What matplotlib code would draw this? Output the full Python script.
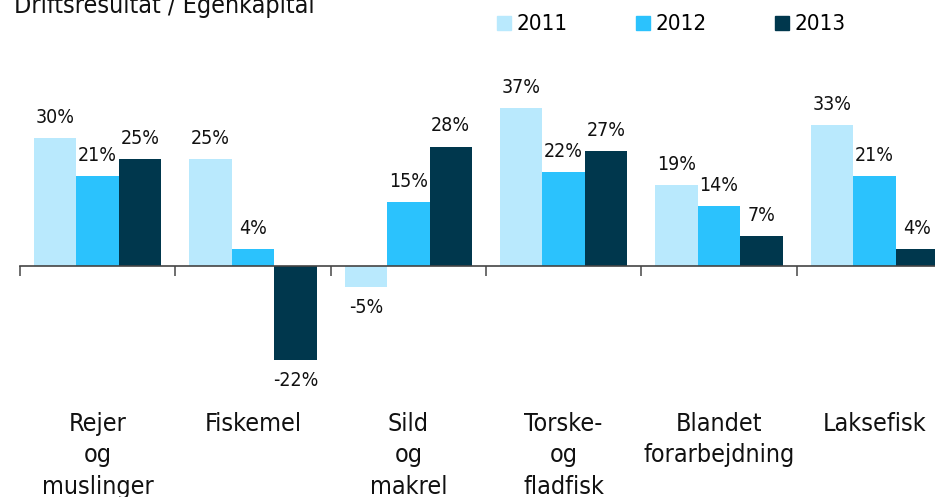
import numpy as np
import matplotlib.pyplot as plt
from matplotlib.lines import Line2D
from matplotlib.transforms import blended_transform_factory

# --- data ---
categories = ["Rejer\nog\nmuslinger", "Fiskemel", "Sild\nog\nmakrel",
              "Torske-\nog\nfladfisk", "Blandet\nforarbejdning", "Laksefisk"]
years = ["2011", "2012", "2013"]
v2011 = [30, 25, -5, 37, 19, 33]
v2012 = [21, 4, 15, 22, 14, 21]
v2013 = [25, -22, 28, 27, 7, 4]
colors = ["#b9e9fd", "#2bc2fd", "#00374d"]

# condensed face to mimic the narrow font in the original
plt.rcParams['font.family'] = ['DejaVu Sans']
plt.rcParams['font.stretch'] = 'condensed'

fig = plt.figure(figsize=(9.35, 4.97), dpi=100)
# axes extends past the right edge like the original
ax = fig.add_axes([20 / 935, 103 / 497, 932 / 935, 320 / 497])

x = np.arange(len(categories))
w = 0.273
for i, (vals, c) in enumerate(zip([v2011, v2012, v2013], colors)):
    pos = x + (i - 1) * w
    ax.bar(pos, vals, width=w, color=c, label=years[i])
    for p, v in zip(pos, vals):
        if v >= 0:
            ax.text(p, v + 2.6, f"{v}%", ha='center', va='bottom', fontsize=14, color='#111111')
        else:
            ax.text(p, v - 2.6, f"{v}%", ha='center', va='top', fontsize=14, color='#111111')

ax.set_xlim(-0.5, len(categories) - 0.5)
ax.set_ylim(-30, 45)

for s in ['top', 'right', 'left']:
    ax.spines[s].set_visible(False)
ax.spines['bottom'].set_position(('data', 0))
ax.spines['bottom'].set_color('#444444')
ax.spines['bottom'].set_linewidth(1.2)
ax.set_yticks([])
ax.set_xticks(np.arange(len(categories) + 1) - 0.5)
ax.set_xticklabels([])
ax.tick_params(axis='x', direction='out', length=7, color='#555555', width=1.2)

trans = blended_transform_factory(ax.transData, ax.transAxes)
for xi, lab in zip(x, categories):
    ax.text(xi, -0.055, lab, transform=trans, ha='center', va='top',
            fontsize=18, linespacing=1.4, color='#111111')

fig.text(14 / 935, 1.012, "Driftsresultat / Egenkapital", ha='left', va='top', fontsize=18, color='#111111')

handles = [Line2D([], [], marker='s', linestyle='None', markersize=10, color=c) for c in colors]
fig.legend(handles, years, loc='upper left', bbox_to_anchor=(481 / 935, 1.0), ncol=3,
           frameon=False, fontsize=16, handlelength=0.8, handletextpad=0.15,
           columnspacing=3.0, borderaxespad=0.25)

fig.savefig("out.png", dpi=100)
